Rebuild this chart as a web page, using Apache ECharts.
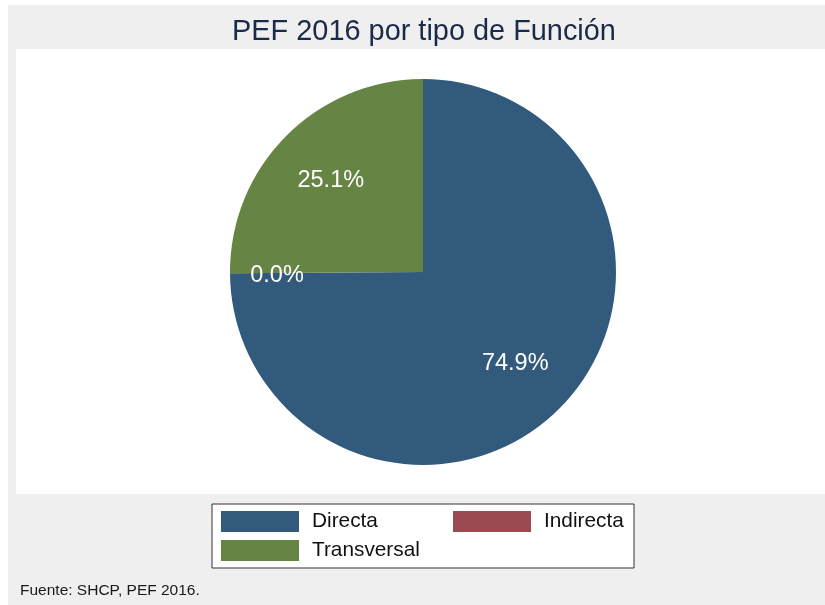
<!DOCTYPE html>
<html>
<head>
<meta charset="utf-8">
<script src="https://cdn.jsdelivr.net/npm/echarts@6/dist/echarts.min.js"></script>
<style>
  html, body { margin: 0; padding: 0; background: #fff; }
  #main { width: 825px; height: 605px; }
</style>
</head>
<body>
<div id="main"></div>
<script>
// datos del PEF 2016 por tipo de funcion
var categorias = ["Directa", "Indirecta", "Transversal"];
var porcentajes = [74.9, 0.0, 25.1];
var colores = ["#325a7d", "#9b4a51", "#668444"];

var myChart = echarts.init(document.getElementById("main"));

var pieData = categorias.map(function (name, i) {
  return { name: name, value: porcentajes[i], itemStyle: { color: colores[i] } };
});

var option = {
  backgroundColor: "#ffffff",
  animation: false,
  graphic: [
    // fondo gris y region blanca del grafico
    { type: "rect", left: 8, top: 5, shape: { width: 817, height: 600 }, style: { fill: "#efefef" }, z: -10 },
    { type: "rect", left: 16, top: 49, shape: { width: 809, height: 445 }, style: { fill: "#ffffff" }, z: -9 },
    {
      type: "text", left: 20, top: 583,
      style: { text: "Fuente: SHCP, PEF 2016.", fill: "#1a1a1a", font: "15.5px 'Liberation Sans', Arial, sans-serif" }
    }
  ],
  title: {
    text: "PEF 2016 por tipo de Función",
    left: 419,
    textAlign: "center",
    top: 13,
    textStyle: {
      color: "#1b2a48",
      fontFamily: "Liberation Sans, Arial, sans-serif",
      fontWeight: "normal",
      fontSize: 28.9
    }
  },
  legend: {
    data: [
      { name: "Directa", textStyle: { width: 133 } },
      { name: "Indirecta", textStyle: { width: 80 } },
      { name: "Transversal", textStyle: { width: 133 } }
    ],
    orient: "horizontal",
    left: 212,
    top: 504,
    width: 404,
    padding: [7, 10, 7, 9],
    itemGap: 8,
    itemWidth: 78,
    itemHeight: 21,
    itemStyle: { borderWidth: 0 },
    backgroundColor: "#ffffff",
    borderColor: "#333333",
    borderWidth: 1,
    icon: "rect",
    textStyle: {
      color: "#111111",
      fontFamily: "Liberation Sans, Arial, sans-serif",
      fontSize: 20.8,
      lineHeight: 21,
      padding: [0, 0, 0, 8]
    }
  },
  series: [
    {
      name: "PEF",
      type: "pie",
      center: [423, 272],
      radius: [0, 193],
      startAngle: 90,
      clockwise: true,
      silent: true,
      label: { show: false },
      labelLine: { show: false },
      itemStyle: { borderWidth: 0 },
      data: pieData
    },
    {
      // serie transparente solo para colocar las etiquetas
      name: "etiquetas",
      type: "pie",
      center: [423, 272],
      radius: [61, 193],
      startAngle: 90,
      clockwise: true,
      silent: true,
      legendHoverLink: false,
      itemStyle: { color: "rgba(0,0,0,0)", borderWidth: 0 },
      label: {
        show: true,
        position: "inside",
        color: "#ffffff",
        fontFamily: "Liberation Sans, Arial, sans-serif",
        fontSize: 23.5,
        formatter: function (p) { return p.value.toFixed(1) + "%"; }
      },
      labelLine: { show: false },
      labelLayout: function (p) {
        if (p.dataIndex === 1) return { dx: -16, dy: 3 };
        return {};
      },
      data: categorias.map(function (name, i) {
        return { name: name + " ", value: porcentajes[i] };
      })
    }
  ]
};

myChart.setOption(option);
</script>
</body>
</html>
